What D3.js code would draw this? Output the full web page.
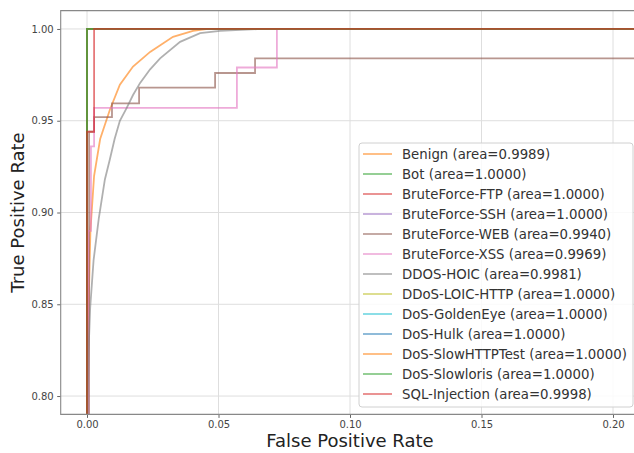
<!DOCTYPE html>
<html>
<head>
<meta charset="utf-8">
<script src="https://cdn.jsdelivr.net/npm/d3@7"></script>
<style>
  body { margin: 0; background: #fff; }
  svg text { font-family: "DejaVu Sans", sans-serif; }
</style>
</head>
<body>
<svg id="chart" width="634" height="453"></svg>
<script>
// Class names, AUC values and line colours (legend order = draw order)
const classNames = [
  "Benign", "Bot", "BruteForce-FTP", "BruteForce-SSH", "BruteForce-WEB",
  "BruteForce-XSS", "DDOS-HOIC", "DDoS-LOIC-HTTP", "DoS-GoldenEye",
  "DoS-Hulk", "DoS-SlowHTTPTest", "DoS-Slowloris", "SQL-Injection"
];
const aucValues = [0.9989, 1.0, 1.0, 1.0, 0.9940, 0.9969, 0.9981, 1.0, 1.0, 1.0, 1.0, 1.0, 0.9998];
const lineColors = [
  "#ff7f0e", "#2ca02c", "#d62728", "#9467bd", "#8c564b", "#e377c2",
  "#7f7f7f", "#bcbd22", "#17becf", "#1f77b4", "#ff7f0e", "#2ca02c", "#d62728"
];

const xTicks = [0, 0.05, 0.10, 0.15, 0.20];
const yTicks = [0.80, 0.85, 0.90, 0.95, 1.00];
const xDomain = [-0.01, 0.21];
const yDomain = [0.79, 1.01];

// ROC curves as [false positive rate, true positive rate]
const rocPerfect = [[0, 0], [0, 1], [1, 1]];
const rocBenign = [
  [0, 0], [0.0003, 0.80], [0.0008, 0.86], [0.0013, 0.89], [0.0027, 0.92],
  [0.005, 0.94], [0.0087, 0.956], [0.0125, 0.9696], [0.0175, 0.9795],
  [0.024, 0.9875], [0.0327, 0.9957], [0.0403, 0.999], [0.046, 1.0], [1, 1]
];
const rocBruteForceWeb = [
  [0, 0], [0.0008, 0], [0.0008, 0.944], [0.0027, 0.944], [0.0027, 0.952],
  [0.0095, 0.952], [0.0095, 0.9595], [0.0198, 0.9595], [0.0198, 0.968],
  [0.0487, 0.968], [0.0487, 0.976], [0.0639, 0.976], [0.0639, 0.984],
  [0.3, 0.984], [0.3, 1], [1, 1]
];
const rocBruteForceXss = [
  [0, 0], [0.0005, 0], [0.0005, 0.89], [0.0015, 0.89], [0.0015, 0.936],
  [0.0027, 0.936], [0.0027, 0.957], [0.057, 0.957], [0.057, 0.979],
  [0.0722, 0.979], [0.0722, 1], [1, 1]
];
const rocDdosHoic = [
  [0, 0], [0.0003, 0.80], [0.0006, 0.825], [0.0012, 0.848], [0.0025, 0.874],
  [0.0045, 0.897], [0.0068, 0.918], [0.0087, 0.929], [0.0105, 0.94],
  [0.0125, 0.95], [0.0151, 0.957], [0.0175, 0.964], [0.0202, 0.9706],
  [0.024, 0.978], [0.0278, 0.984], [0.0354, 0.993], [0.043, 0.9977],
  [0.0506, 0.999], [0.066, 1.0], [1, 1]
];
const rocSqlInjection = [[0, 0], [0, 0.944], [0.0027, 0.944], [0.0027, 1], [1, 1]];

const rocCurves = [
  rocBenign, rocPerfect, rocPerfect, rocPerfect, rocBruteForceWeb,
  rocBruteForceXss, rocDdosHoic, rocPerfect, rocPerfect,
  rocPerfect, rocPerfect, rocPerfect, rocSqlInjection
];

const svg = d3.select("#chart");
const plot = { left: 60.7, top: 10.6, right: 639.3, bottom: 414.4 };

const x = d3.scaleLinear().domain(xDomain).range([plot.left, plot.right]);
const y = d3.scaleLinear().domain(yDomain).range([plot.bottom, plot.top]);

svg.append("defs").append("clipPath").attr("id", "plot-clip")
  .append("rect")
  .attr("x", plot.left).attr("y", plot.top)
  .attr("width", plot.right - plot.left).attr("height", plot.bottom - plot.top);

// grid
const grid = svg.append("g");
grid.selectAll(".gx").data(xTicks).join("line")
  .attr("x1", d => x(d)).attr("x2", d => x(d))
  .attr("y1", plot.top).attr("y2", plot.bottom)
  .attr("stroke", "#dedede").attr("stroke-width", 1);
grid.selectAll(".gy").data(yTicks).join("line")
  .attr("x1", plot.left).attr("x2", plot.right)
  .attr("y1", d => y(d)).attr("y2", d => y(d))
  .attr("stroke", "#dedede").attr("stroke-width", 1);

// curves
const line = d3.line().x(d => x(d[0])).y(d => y(d[1]));
const curves = svg.append("g").attr("clip-path", "url(#plot-clip)");
rocCurves.forEach((pts, i) => {
  curves.append("path")
    .attr("d", line(pts))
    .attr("fill", "none")
    .attr("stroke", lineColors[i])
    .attr("stroke-opacity", 0.62)
    .attr("stroke-width", 1.8)
    .attr("stroke-linejoin", "miter");
});

// axes
const xAxis = d3.axisBottom(x).tickValues(xTicks).tickFormat(d3.format(".2f"))
  .tickSize(3.5).tickPadding(3.5);
const yAxis = d3.axisLeft(y).tickValues(yTicks).tickFormat(d3.format(".2f"))
  .tickSize(3.5).tickPadding(3.5);

const gx = svg.append("g").attr("transform", `translate(0,${plot.bottom})`).call(xAxis);
const gy = svg.append("g").attr("transform", `translate(${plot.left},0)`).call(yAxis);
[gx, gy].forEach(g => {
  g.select(".domain").remove();
  g.selectAll(".tick line").attr("stroke", "#666");
  g.selectAll(".tick text").attr("fill", "#444").style("font-size", "10px")
    .style("font-family", "'DejaVu Sans', sans-serif");
});

// frame (left, top, bottom)
svg.append("path")
  .attr("d", `M${plot.right},${plot.top}H${plot.left}V${plot.bottom}H${plot.right}`)
  .attr("fill", "none").attr("stroke", "#888").attr("stroke-width", 1.1);

// axis labels
svg.append("text")
  .attr("x", (plot.left + plot.right) / 2).attr("y", 447)
  .attr("text-anchor", "middle").attr("fill", "#222")
  .style("font-size", "18px").text("False Positive Rate");
svg.append("text")
  .attr("transform", `translate(24,${(plot.top + plot.bottom) / 2}) rotate(-90)`)
  .attr("text-anchor", "middle").attr("fill", "#222")
  .style("font-size", "18px").text("True Positive Rate");

// legend
const legend = svg.append("g");
legend.append("rect")
  .attr("x", 359).attr("y", 143).attr("width", 274).attr("height", 264)
  .attr("rx", 3).attr("fill", "#fff").attr("fill-opacity", 0.85)
  .attr("stroke", "#d0d0d0").attr("stroke-width", 1);
classNames.forEach((name, i) => {
  const yy = 154 + i * 20;
  legend.append("line")
    .attr("x1", 363).attr("x2", 392).attr("y1", yy).attr("y2", yy)
    .attr("stroke", lineColors[i]).attr("stroke-opacity", 0.5)
    .attr("stroke-width", 2);
  legend.append("text")
    .attr("x", 402).attr("y", yy).attr("dy", "0.35em")
    .attr("fill", "#333").style("font-size", "13.3px")
    .text(`${name} (area=${aucValues[i].toFixed(4)})`);
});
</script>
</body>
</html>
